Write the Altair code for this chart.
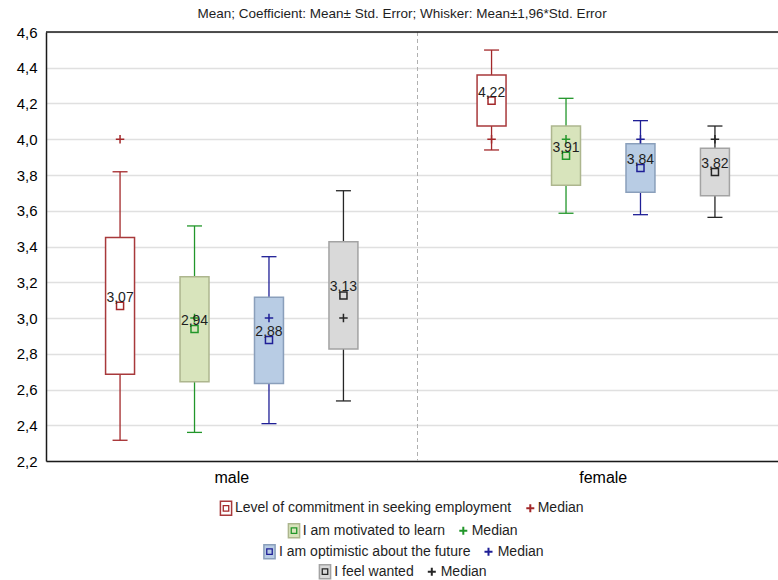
import altair as alt
import pandas as pd

# ---------------- data ----------------
groups = ["male", "female"]
series = [
    "Level of commitment in seeking employment",
    "I am motivated to learn",
    "I am optimistic about the future",
    "I feel wanted",
]

mean_male = [3.068, 2.938, 2.877, 3.126]
mean_female = [4.216, 3.908, 3.839, 3.817]
box_low_male = [2.685, 2.644, 2.634, 2.827]
box_high_male = [3.451, 3.231, 3.116, 3.427]
box_low_female = [4.074, 3.742, 3.703, 3.684]
box_high_female = [4.359, 4.074, 3.975, 3.949]
whisk_low_male = [2.316, 2.360, 2.409, 2.536]
whisk_high_male = [3.818, 3.515, 3.343, 3.712]
whisk_low_female = [3.940, 3.586, 3.578, 3.563]
whisk_high_female = [4.499, 4.229, 4.104, 4.074]
median_male = [4.0, 3.0, 3.0, 3.0]
median_female = [4.0, 4.0, 4.0, 4.0]

y_ticks = [2.2, 2.4, 2.6, 2.8, 3.0, 3.2, 3.4, 3.6, 3.8, 4.0, 4.2, 4.4, 4.6]

title_text = "Mean; Coefficient: Mean\u00b1 Std. Error; Whisker: Mean\u00b11,96*Std. Error"

# ---------------- styles ----------------
line_colors = ["#a3282a", "#22962a", "#1f1f96", "#262626"]
box_fills = ["#ffffff", "#d8e4bc", "#b8cce4", "#d9d9d9"]
box_strokes = ["#a8393b", "#adb68e", "#8a9fbb", "#a3a3a3"]

FONT = "Liberation Sans"
TXT = "#1e1e1e"

# legend layout (pixels relative to plot origin)
legend_row_y = [476.3, 498.7, 519.7, 539.7]
legend_sym_x = [180.0, 248.0, 223.5, 279.0]
legend_text_x = [189.0, 256.7, 233.0, 288.3]
legend_plus_x = [484.3, 417.3, 442.5, 385.8]
legend_med_x = [491.7, 425.7, 451.7, 394.7]

# ---------------- tables ----------------
rows = []
per_group = {
    "male": (mean_male, box_low_male, box_high_male, whisk_low_male, whisk_high_male, median_male),
    "female": (mean_female, box_low_female, box_high_female, whisk_low_female, whisk_high_female, median_female),
}
for g in groups:
    m, bl, bh, wl, wh, md = per_group[g]
    for i, s in enumerate(series):
        rows.append({
            "group": g, "series": s,
            "mean": m[i], "bl": bl[i], "bh": bh[i], "wl": wl[i], "wh": wh[i], "med": md[i],
            "lab": f"{m[i]:.2f}".replace(".", ","),
            "lc": line_colors[i], "bf": box_fills[i], "bs": box_strokes[i],
        })
df = pd.DataFrame(rows)

leg = pd.DataFrame({
    "series": series, "lc": line_colors, "bf": box_fills, "bs": box_strokes,
    "ry": legend_row_y, "sx": legend_sym_x, "tx": legend_text_x,
    "px": legend_plus_x, "mx": legend_med_x,
})

# ---------------- chart ----------------
xenc = alt.X(
    "group:N", sort=groups,
    scale=alt.Scale(domain=groups, range=[0, 743], paddingInner=0, paddingOuter=0),
    axis=alt.Axis(title=None, labelAngle=0, grid=False, ticks=False, tickSize=0,
                  labelFontSize=16, labelPadding=8, domainColor="#1a1a1a", domainWidth=1.5),
)
xoff = alt.XOffset("series:N", sort=series,
                   scale=alt.Scale(domain=series, paddingInner=0.611, paddingOuter=0.8))
yscale = alt.Scale(domain=[2.2, 4.6], nice=False, zero=False)
yaxis = alt.Axis(values=y_ticks, labelExpr="replace(format(datum.value, '.1f'), '.', ',')",
                 labelOverlap=False, labelBound=False, title=None,
                 grid=True, gridColor="#e0e0e0", gridWidth=1.5, ticks=False, tickSize=0,
                 labelFontSize=15, labelPadding=9, domainColor="#1a1a1a", domainWidth=1.5)


def Y(field):
    return alt.Y(field, scale=yscale, axis=yaxis, title=None)


base = alt.Chart(df).encode(x=xenc, xOffset=xoff)

whisk = base.mark_rule(strokeWidth=1.3, opacity=1).encode(
    y=Y("wl:Q"), y2="wh:Q", stroke=alt.Stroke("lc:N", scale=None))
cap_lo = base.mark_tick(size=15, thickness=1.3, opacity=1).encode(
    y=Y("wl:Q"), color=alt.Color("lc:N", scale=None))
cap_hi = base.mark_tick(size=15, thickness=1.3, opacity=1).encode(
    y=Y("wh:Q"), color=alt.Color("lc:N", scale=None))
box = base.mark_bar(strokeWidth=1.5, opacity=1).encode(
    y=Y("bl:Q"), y2="bh:Q",
    fill=alt.Fill("bf:N", scale=None), stroke=alt.Stroke("bs:N", scale=None))
med = base.mark_point(shape="M-1,0H1M0,-1V1", size=72, filled=False, strokeWidth=1.5, opacity=1).encode(
    y=Y("med:Q"), stroke=alt.Stroke("lc:N", scale=None))
mean = base.mark_point(shape="square", size=50, filled=False, strokeWidth=1.5, opacity=1).encode(
    y=Y("mean:Q"), stroke=alt.Stroke("lc:N", scale=None))
lab = base.mark_text(baseline="alphabetic", dy=-4, fontSize=14, color=TXT, font=FONT).encode(
    y=Y("mean:Q"), text="lab:N")

# separators / frame
mid = alt.Chart(pd.DataFrame({"group": ["female"]})).mark_rule(
    strokeDash=[4, 3], color="#b0b0b0", strokeWidth=1).encode(
    x=alt.X("group:N", sort=groups, bandPosition=0))
top = alt.Chart(pd.DataFrame({"a": [0]})).mark_rule(color="#1a1a1a", strokeWidth=1.5).encode(
    x=alt.value(0), x2=alt.value(743), y=alt.value(0))

# legend
lb = alt.Chart(leg).encode(y=alt.Y("ry:Q", scale=None, axis=None))
l_sym = lb.mark_point(shape="M-0.8,-1H0.8V1H-0.8Z", size=196, filled=True, strokeWidth=1.5, opacity=1).encode(
    x=alt.X("sx:Q", scale=None, axis=None), fill=alt.Fill("bf:N", scale=None), stroke=alt.Stroke("bs:N", scale=None))
l_in = lb.mark_point(shape="square", size=30, filled=False, strokeWidth=1.3, opacity=1).encode(
    x=alt.X("sx:Q", scale=None, axis=None), stroke=alt.Stroke("lc:N", scale=None))
l_txt = lb.mark_text(align="left", baseline="middle", fontSize=14, color=TXT, font=FONT).encode(
    x=alt.X("tx:Q", scale=None, axis=None), text="series:N")
l_plus = lb.mark_point(shape="M-1,0H1M0,-1V1", size=64, filled=False, strokeWidth=2, opacity=1).encode(
    x=alt.X("px:Q", scale=None, axis=None), stroke=alt.Stroke("lc:N", scale=None))
l_med = lb.mark_text(align="left", baseline="middle", fontSize=14, color=TXT, font=FONT, text="Median").encode(
    x=alt.X("mx:Q", scale=None, axis=None))

chart = alt.layer(
    whisk, cap_lo, cap_hi, box, mid, top, med, mean, lab,
    l_sym, l_in, l_txt, l_plus, l_med,
).properties(
    width=732, height=429,
    autosize=alt.AutoSizeParams(type="none"),
    padding={"left": 46, "top": 32, "right": 0, "bottom": 119},
    title=alt.TitleParams(title_text, fontSize=13.5, font=FONT, fontWeight="normal", color=TXT,
                          anchor="middle", dx=-10, dy=17, offset=11, baseline="alphabetic"),
).configure_view(stroke=None).configure_axis(
    labelFont=FONT, labelColor=TXT,
).configure(background="white")

chart.save("out.html", embed_options={"renderer": "svg", "actions": False})
